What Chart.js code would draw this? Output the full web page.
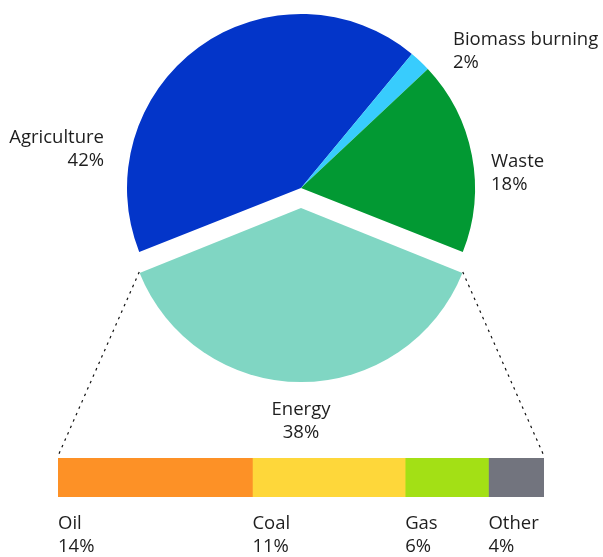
<!DOCTYPE html>
<html>
<head>
<meta charset="utf-8">
<script src="https://cdn.jsdelivr.net/npm/chart.js@4"></script>
<style>
  body { margin: 0; background: #fff; }
  #wrap { position: relative; width: 603px; height: 557px; }
  #wrap canvas { position: absolute; left: 0; top: 0; }
</style>
</head>
<body>
<div id="wrap">
  <canvas id="pie" width="603" height="557"></canvas>
  <canvas id="bar" width="603" height="557"></canvas>
</div>
<script>
// emission sources (share of total, %)
const sources = ['Agriculture', 'Biomass burning', 'Waste', 'Energy'];
const sourceShares = [42, 2, 18, 38];
const sourceColors = ['#0335C9', '#38CCFD', '#029933', '#80D6C3'];

// breakdown of the energy slice
const fuels = ['Oil', 'Coal', 'Gas', 'Other'];
const fuelShares = [14, 11, 6, 4];
const fuelColors = ['#FD9126', '#FED73A', '#A3E015', '#72747E'];

const FONT = '18.5px "Open Sans", "DejaVu Sans", sans-serif';
const TEXT = '#1e1e1e';

// where the pie labels sit (anchor of first line)
const pieLabelPos = [
  {x: 104, y: 143, align: 'right'},
  {x: 453, y: 45, align: 'left'},
  {x: 491, y: 167, align: 'left'},
  {x: 301, y: 415, align: 'center'}
];

const explodeIdx = sources.indexOf('Energy');
const total = sourceShares.reduce((a, b) => a + b, 0);
const before = sourceShares.slice(0, explodeIdx).reduce((a, b) => a + b, 0);
// rotate so that the energy slice points straight down
const rotation = 180 - (before + sourceShares[explodeIdx] / 2) / total * 360;

// Chart.js grows an offset arc's radius a little; take it back so all slices match
const keepRadius = {
  id: 'keepRadius',
  afterDatasetUpdate(chart, args) {
    args.meta.data.forEach(arc => {
      const off = (arc.options.offset || 0) / 4;
      const fix = 1 - Math.sin(Math.min(Math.PI, arc.circumference));
      arc.outerRadius -= off * fix;
    });
  }
};

const pieLabels = {
  id: 'pieLabels',
  afterDraw(chart) {
    const ctx = chart.ctx;
    ctx.save();
    ctx.font = FONT;
    ctx.fillStyle = TEXT;
    ctx.textBaseline = 'alphabetic';
    sources.forEach((name, i) => {
      const p = pieLabelPos[i];
      ctx.textAlign = p.align;
      ctx.fillText(name, p.x, p.y);
      ctx.fillText(sourceShares[i] + '%', p.x, p.y + 23);
    });
    ctx.restore();
  }
};

const pieChart = new Chart(document.getElementById('pie'), {
  type: 'pie',
  data: {
    labels: sources,
    datasets: [{
      data: sourceShares,
      backgroundColor: sourceColors,
      borderWidth: 0,
      offset: sources.map((s, i) => i === explodeIdx ? 80 : 0),
      hoverOffset: 0
    }]
  },
  options: {
    responsive: false,
    animation: false,
    devicePixelRatio: 1,
    rotation: rotation,
    radius: 174,
    layout: {padding: {top: 0, left: 0, right: 1, bottom: 181}},
    plugins: {legend: {display: false}, tooltip: {enabled: false}}
  },
  plugins: [keepRadius, pieLabels]
});

// dotted guides from the exploded slice to the bar, plus fuel labels
const barExtras = {
  id: 'barExtras',
  afterDraw(chart) {
    const ctx = chart.ctx;
    const arc = pieChart.getDatasetMeta(0).data[explodeIdx];
    const mid = (arc.startAngle + arc.endAngle) / 2;
    const shift = (arc.options.offset || 0) / 4;
    const fix = 1 - Math.sin(Math.min(Math.PI, arc.circumference));
    const r = arc.outerRadius + shift * fix;
    const cx = arc.x + Math.cos(mid) * shift;
    const cy = arc.y + Math.sin(mid) * shift;
    const corner = a => ({x: cx + Math.cos(a) * r, y: cy + Math.sin(a) * r});
    const a1 = corner(arc.endAngle);   // left corner
    const a2 = corner(arc.startAngle); // right corner

    const segs = chart.data.datasets.map((d, i) => chart.getDatasetMeta(i).data[0]);
    const first = segs[0], last = segs[segs.length - 1];
    const top = first.y - first.height / 2;
    const left = Math.min(first.base, first.x);
    const right = Math.max(last.base, last.x);

    ctx.save();
    ctx.strokeStyle = '#111';
    ctx.lineWidth = 1.2;
    ctx.setLineDash([2.5, 4.5]);
    ctx.beginPath();
    ctx.moveTo(a1.x, a1.y); ctx.lineTo(left, top - 2);
    ctx.moveTo(a2.x, a2.y); ctx.lineTo(right, top - 2);
    ctx.stroke();
    ctx.setLineDash([]);

    ctx.font = FONT;
    ctx.fillStyle = TEXT;
    ctx.textAlign = 'left';
    const bottom = first.y + first.height / 2;
    segs.forEach((el, i) => {
      const x = Math.min(el.base, el.x);
      ctx.fillText(fuels[i], x, bottom + 32);
      ctx.fillText(fuelShares[i] + '%', x, bottom + 55);
    });
    ctx.restore();
  }
};

new Chart(document.getElementById('bar'), {
  type: 'bar',
  data: {
    labels: ['Energy'],
    datasets: fuels.map((f, i) => ({
      label: f,
      data: [fuelShares[i]],
      backgroundColor: fuelColors[i],
      borderWidth: 0,
      barPercentage: 1,
      categoryPercentage: 1
    }))
  },
  options: {
    indexAxis: 'y',
    responsive: false,
    animation: false,
    devicePixelRatio: 1,
    layout: {padding: {top: 458, left: 58, right: 59, bottom: 60}},
    scales: {
      x: {stacked: true, display: false, min: 0, max: fuelShares.reduce((a, b) => a + b, 0)},
      y: {stacked: true, display: false}
    },
    plugins: {legend: {display: false}, tooltip: {enabled: false}}
  },
  plugins: [barExtras]
});
</script>
</body>
</html>
